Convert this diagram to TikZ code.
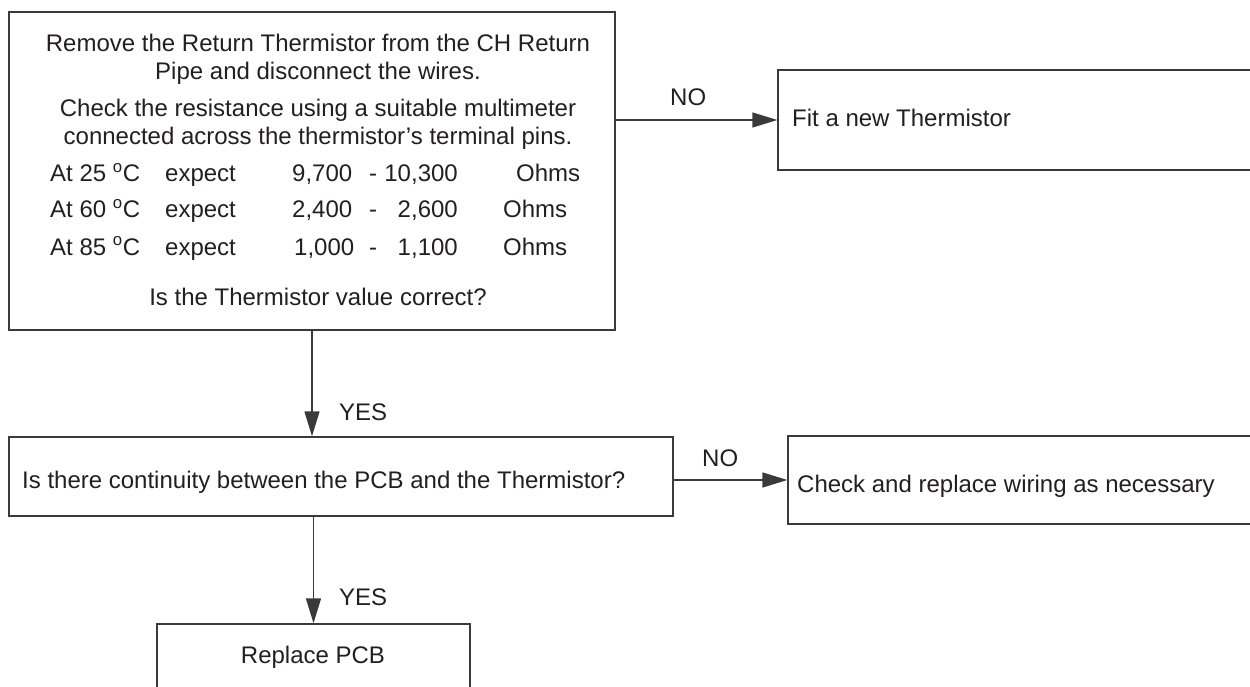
\documentclass[tikz,border=0pt]{standalone}
\usepackage{fontspec}
\setmainfont{Liberation Sans}
\usetikzlibrary{arrows.meta}
\definecolor{ln}{HTML}{3A3A3A}
\definecolor{tx}{HTML}{231F20}
\tikzset{
  box/.style={draw=ln, line width=1.4pt, rectangle, inner sep=0pt},
  txt/.style={inner sep=0pt, text=tx, font=\fontsize{24}{28}\selectfont},
  arr/.style={draw=ln, line width=1.4pt, -{Triangle[length=25pt,width=15pt]}},
}
\newcommand{\dg}{\textsuperscript{o}C}
\begin{document}
\begin{tikzpicture}[x=1pt,y=-1pt]
\clip (0,0) rectangle (1250,687);
% boxes
\node[box, minimum width=606pt, minimum height=318pt] (top) at (312,171) {};
\node[box, minimum width=484pt, minimum height=100pt] (fit) at (1020,120) {};
\node[box, minimum width=664pt, minimum height=79pt] (cont) at (341,476.5) {};
\node[box, minimum width=474pt, minimum height=88pt] (chk) at (1025,480) {};
\node[box, minimum width=313pt, minimum height=96pt] (rep) at (313.5,672) {};
% top box text
\node[txt, anchor=base] (l1) at (318,52) {Remove the Return Thermistor from the CH Return};
\node[txt, anchor=base] (l2) at (318,80) {Pipe and disconnect the wires.};
\node[txt, anchor=base] (l3) at (318,117) {Check the resistance using a suitable multimeter};
\node[txt, anchor=base] (l4) at (318,145) {connected across the thermistor’s terminal pins.};
\node[txt, anchor=base west] (a1) at (50,182) {At 25 \dg};
\node[txt, anchor=base west] (b1) at (165,182) {expect};
\node[txt, anchor=base west] (c1) at (292,182) {9,700};
\node[txt, anchor=base west] (d1) at (369,182) {-};
\node[txt, anchor=base east] (e1) at (458,182) {10,300};
\node[txt, anchor=base west] (f1) at (516,182) {Ohms};
\node[txt, anchor=base west] (a2) at (50,218) {At 60 \dg};
\node[txt, anchor=base west] (b2) at (165,218) {expect};
\node[txt, anchor=base west] (c2) at (292,218) {2,400};
\node[txt, anchor=base west] (d2) at (369,218) {-};
\node[txt, anchor=base east] (e2) at (458,218) {2,600};
\node[txt, anchor=base west] (f2) at (503,218) {Ohms};
\node[txt, anchor=base west] (a3) at (50,255) {At 85 \dg};
\node[txt, anchor=base west] (b3) at (165,255) {expect};
\node[txt, anchor=base west] (c3) at (294,255) {1,000};
\node[txt, anchor=base west] (d3) at (369,255) {-};
\node[txt, anchor=base east] (e3) at (458,255) {1,100};
\node[txt, anchor=base west] (f3) at (503,255) {Ohms};
\node[txt, anchor=base] (l5) at (318,305) {Is the Thermistor value correct?};
% other box texts
\node[txt, anchor=base west] (tfit) at (792,127) {Fit a new Thermistor};
\node[txt, anchor=base west] (tcont) at (22,488) {Is there continuity between the PCB and the Thermistor?};
\node[txt, anchor=base west] (tchk) at (797,492) {Check and replace wiring as necessary};
\node[txt, anchor=base] (trep) at (313,663) {Replace PCB};
% connectors
\draw[arr] (top.east |- fit.west) -- (fit.west);
\draw[arr] (cont.east |- chk.west) -- (chk.west);
\draw[arr] (top.south) -- (top.south |- cont.north);
\draw[arr] (rep.north |- cont.south) -- (rep.north);
% labels
\node[txt, anchor=base west] (no1) at (670,106) {NO};
\node[txt, anchor=base west] (no2) at (702,466) {NO};
\node[txt, anchor=base west] (yes1) at (339,420) {YES};
\node[txt, anchor=base west] (yes2) at (339,605) {YES};
\end{tikzpicture}
\end{document}
